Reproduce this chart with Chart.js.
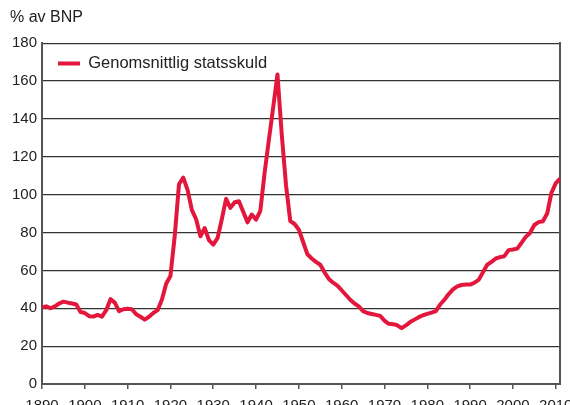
<!DOCTYPE html>
<html>
<head>
<meta charset="utf-8">
<script src="https://cdn.jsdelivr.net/npm/chart.js@4"></script>
<style>
  html, body { margin: 0; padding: 0; background: #fff; overflow: hidden; }
  #box { width: 570px; height: 420px; }
</style>
</head>
<body>
<div id="box"><canvas id="chart"></canvas></div>
<script>
const years = [
  1890, 1891, 1892, 1893, 1894, 1895, 1896, 1897, 1898, 1899,
  1900, 1901, 1902, 1903, 1904, 1905, 1906, 1907, 1908, 1909,
  1910, 1911, 1912, 1913, 1914, 1915, 1916, 1917, 1918, 1919,
  1920, 1921, 1922, 1923, 1924, 1925, 1926, 1927, 1928, 1929,
  1930, 1931, 1932, 1933, 1934, 1935, 1936, 1937, 1938, 1939,
  1940, 1941, 1942, 1943, 1944, 1945, 1946, 1947, 1948, 1949,
  1950, 1951, 1952, 1953, 1954, 1955, 1956, 1957, 1958, 1959,
  1960, 1961, 1962, 1963, 1964, 1965, 1966, 1967, 1968, 1969,
  1970, 1971, 1972, 1973, 1974, 1975, 1976, 1977, 1978, 1979,
  1980, 1981, 1982, 1983, 1984, 1985, 1986, 1987, 1988, 1989,
  1990, 1991, 1992, 1993, 1994, 1995, 1996, 1997, 1998, 1999,
  2000, 2001, 2002, 2003, 2004, 2005, 2006, 2007, 2008, 2009,
  2010, 2011
];

// Genomsnittlig statsskuld, % av BNP
const debt = [
  40.5, 41, 40, 41, 42.5, 43.5, 43, 42.5, 42, 38,
  37.5, 35.8, 35.6, 36.5, 35.6, 39, 44.8, 43, 38.5, 39.5,
  39.7, 39.5, 36.8, 35.5, 34, 35.5, 37.5, 39, 44.5, 53,
  57, 78, 105.5, 109, 102.5, 92, 87, 78, 82.4, 76,
  73.6, 77, 87, 97.8, 93, 96, 96.5, 91, 85.4, 89.5,
  86.8, 91.5, 111.5, 129, 146, 163.5, 132, 105, 86, 84.5,
  81.5, 75, 68.5, 66.3, 64.5, 63, 59, 55.5, 53.5, 52,
  49.5, 47, 44.5, 42.5, 41, 38.5, 37.5, 37, 36.5, 36,
  33.5, 31.8, 31.6, 31, 29.5, 31, 32.7, 34, 35.3, 36.3,
  37, 37.7, 38.5, 42, 44.5, 47.5, 50, 51.6, 52.3, 52.5,
  52.5, 53.5, 55, 59, 63, 64.5, 66.3, 67, 67.5, 70.7,
  71, 71.5, 74.5, 77.7, 79.8, 84, 85.5, 86, 90, 101,
  106, 108.5
];

const xTicks = [1890, 1900, 1910, 1920, 1930, 1940, 1950, 1960, 1970, 1980, 1990, 2000, 2010];
const yTicks = [0, 20, 40, 60, 80, 100, 120, 140, 160, 180];

const red = '#e3173c';
const font = 'Liberation Sans, Arial, Helvetica, sans-serif';

// keep the legend inside the plot, top left
const legendInside = {
  id: 'legendInside',
  afterLayout(chart) {
    const lg = chart.legend, ca = chart.chartArea;
    if (!lg) return;
    const w = lg.width, h = lg.height;
    lg.left = ca.left + 3;
    lg.top = ca.top - 1;
    lg.right = lg.left + w;
    lg.bottom = lg.top + h;
  }
};

new Chart(document.getElementById('chart').getContext('2d'), {
  type: 'line',
  data: {
    datasets: [{
      label: 'Genomsnittlig statsskuld',
      data: years.map((y, i) => ({ x: y, y: debt[i] })),
      borderColor: red,
      backgroundColor: red,
      borderWidth: 4,
      borderJoinStyle: 'round',
      pointRadius: 0,
      tension: 0
    }]
  },
  plugins: [legendInside],
  options: {
    responsive: true,
    maintainAspectRatio: false,
    animation: false,
    layout: { padding: { left: 10, right: 0, top: 0, bottom: 5 } },
    plugins: {
      tooltip: { enabled: false },
      title: {
        display: true,
        text: '% av BNP',
        align: 'start',
        color: '#222',
        font: { family: font, size: 16, weight: 'normal' },
        padding: { top: 8, bottom: 16 }
      },
      legend: {
        position: 'chartArea',
        align: 'start',
        labels: {
          usePointStyle: true,
          pointStyle: 'line',
          pointStyleWidth: 22,
          padding: 13,
          color: '#222',
          font: { family: font, size: 16.5 }
        }
      }
    },
    scales: {
      x: {
        type: 'linear',
        min: 1890,
        max: 2011,
        afterBuildTicks: s => { s.ticks = xTicks.map(v => ({ value: v })); },
        afterFit: s => { s.height = 31; s.paddingLeft = 0; s.paddingRight = 0; },
        ticks: {
          maxRotation: 0,
          padding: 8,
          color: '#222',
          font: { family: font, size: 15 },
          callback: v => String(v)
        },
        grid: { drawOnChartArea: false, drawTicks: true, tickLength: 5, color: '#555', lineWidth: 1.5 },
        border: { color: '#555', width: 2 }
      },
      y: {
        min: 0,
        max: 180,
        afterBuildTicks: s => { s.ticks = yTicks.map(v => ({ value: v })); },
        afterFit: s => { s.width = 32; },
        ticks: {
          padding: 5,
          color: '#222',
          font: { family: font, size: 15 }
        },
        grid: { color: '#333', lineWidth: 1.2, drawTicks: false },
        border: { color: '#555', width: 2 }
      },
      y2: {
        position: 'right',
        min: 0,
        max: 180,
        afterFit: s => { s.width = 10; },
        ticks: { display: false },
        grid: { drawOnChartArea: false, drawTicks: false },
        border: { color: '#555', width: 2 }
      }
    }
  }
});
</script>
</body>
</html>
